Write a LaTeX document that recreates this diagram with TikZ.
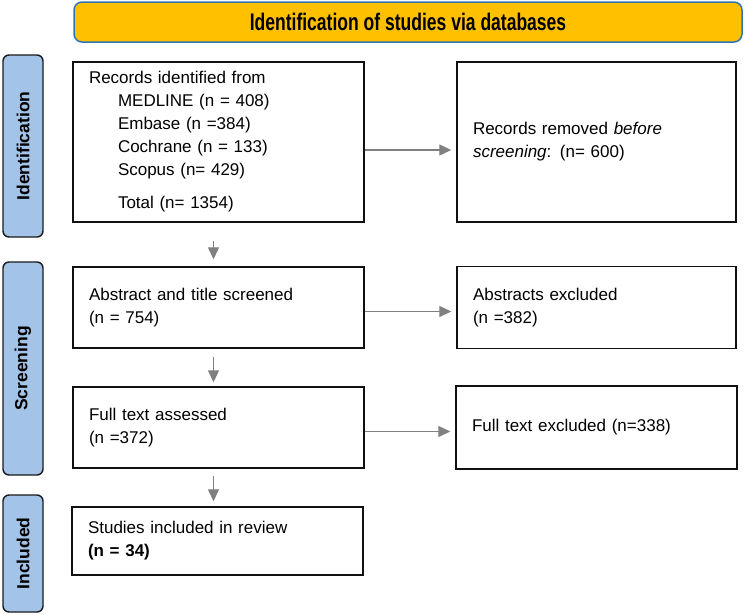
\documentclass[tikz,border=0pt]{standalone}
\usepackage{fontspec}
\setmainfont{Liberation Sans}
\newfontfamily\titlefont[FakeStretch=0.73]{Liberation Sans}
\usetikzlibrary{arrows.meta,positioning}
\definecolor{ink}{HTML}{111111}
\definecolor{headfill}{HTML}{FFC000}
\definecolor{headrim}{HTML}{2E75B6}
\definecolor{stagefill}{HTML}{A3C4E8}
\definecolor{stagerim}{HTML}{1A1A1A}
\definecolor{flowgrey}{HTML}{808080}

\begin{document}
\begin{tikzpicture}[x=1pt,y=-1pt,
  box/.style={draw=ink, line width=1.4pt, fill=white, inner xsep=16pt, align=left, font=\fontsize{17}{23}\selectfont},
  stage/.style={draw=stagerim, line width=1.4pt, fill=stagefill, rounded corners=6pt, rotate=90, minimum height=40pt, font=\fontsize{17.5}{20}\selectfont\bfseries},
  flow/.style={draw=flowgrey, line width=1.2pt, -{Triangle[length=12pt,width=11pt]}, shorten >=5pt}]
  \useasboundingbox (0,0) rectangle (744,613);

  \node[draw=headrim, fill=headfill, line width=1.5pt, rounded corners=8pt, minimum width=668pt, minimum height=40pt, font=\titlefont\bfseries\fontsize{24}{26}\selectfont] (head) at (408,22) {Identification of studies via databases};

  % stage labels on the left
  \node[stage, minimum width=182pt] (ident) at (23,146) {Identification};
  \node[stage, minimum width=213pt] (screen) at (23,368.5) {Screening};
  \node[stage, minimum width=117pt] (incl) at (23,553.5) {Included};

  % main column
  \node[box, text width=259pt, minimum height=160pt] (rec) at (218.5,142) {Records identified from\\
    \hspace*{29pt}MEDLINE (n = 408)\\
    \hspace*{29pt}Embase (n =384)\\
    \hspace*{29pt}Cochrane (n = 133)\\
    \hspace*{29pt}Scopus (n= 429)\\[10pt]
    \hspace*{29pt}Total (n= 1354)};
  \node[box, text width=259pt, minimum height=81pt] (abs) at (218.5,307.5) {Abstract and title screened\\(n = 754)};
  \node[box, text width=259pt, minimum height=81pt] (full) at (218.5,427.5) {Full text assessed\\(n =372)};
  \node[box, text width=259pt, minimum height=68pt] (stud) at (217.5,541) {Studies included in review\\\textbf{(n = 34)}};

  % exclusions on the right
  \node[box, text width=247pt, minimum height=160pt] (rem) at (596.5,142) {Records removed \textit{before screening}: (n= 600)};
  \node[box, text width=247pt, minimum height=82pt] (absx) at (596.5,307.5) {Abstracts excluded\\(n =382)};
  \node[box, text width=249pt, minimum height=83pt] (fullx) at (596.5,427.5) {Full text excluded (n=338)};

  \draw[flow] ([yshift=-8pt]rec.east) -- ([yshift=-8pt]rem.west);
  \draw[flow] ([yshift=-4pt]abs.east) -- ([yshift=-4pt]absx.west);
  \draw[flow] ([yshift=-4pt]full.east) -- ([yshift=-4pt]fullx.west);
  \draw[flow, shorten <=18pt, shorten >=7pt] ([xshift=-5pt]rec.south) -- ([xshift=-5pt]abs.north);
  \draw[flow, shorten <=8pt, shorten >=4pt] ([xshift=-5pt]abs.south) -- ([xshift=-5pt]full.north);
  \draw[flow, shorten <=7pt, shorten >=5pt] ([xshift=-5pt]full.south) -- ([xshift=-4pt]stud.north);
\end{tikzpicture}
\end{document}
